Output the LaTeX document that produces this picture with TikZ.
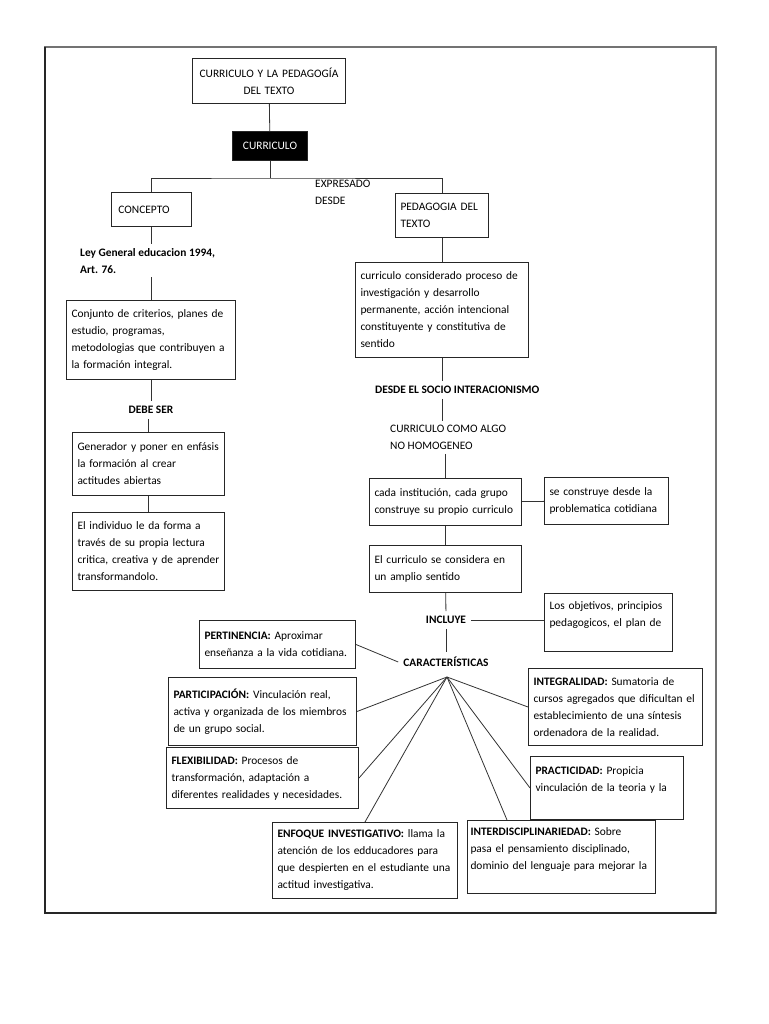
\documentclass[tikz,border=0pt]{standalone}
\usepackage{fontspec}
\setmainfont{Carlito}
\usetikzlibrary{positioning}
\newcommand{\txtsize}{\fontsize{11.4pt}{17pt}\selectfont}
\tikzset{
  box/.style={draw=black!85, line width=1pt, anchor=north west, align=left, inner xsep=5pt, inner ysep=3pt},
  lbl/.style={font=\txtsize\bfseries, inner sep=5pt},
  link/.style={draw=black!80, line width=0.8pt},
}

\begin{document}
\begin{tikzpicture}[x=1pt,y=-1pt,font=\txtsize]
	\useasboundingbox (0,0) rectangle (768,1024);
	\draw[line width=1.6pt, black!55] (45,47) rectangle (716,913);
	\draw[line width=1.6pt, black!85] (45,47) -- (45,913) -- (716,913);
	% cabecera
	\node[box, align=center, text width=143pt, minimum height=45pt] (titulo) at (192,58) {CURRICULO Y LA PEDAGOGÍA\\DEL TEXTO};
	\node[box, align=center, fill=black, text=white, text width=65pt, minimum height=29pt] (curr) at (232,131) {CURRICULO};
	\node[box, text width=70pt, minimum height=34pt] (concepto) at (111,192) {\,CONCEPTO};
	\node[box, text width=83pt, minimum height=44pt] (ped) at (395,193) {PEDAGOGIA DEL\\TEXTO};
	\node[anchor=north west, align=left, inner sep=3pt] (expr) at (312,177) {EXPRESADO\\DESDE};
	% columna izquierda
	\node[lbl, anchor=north west, align=left, inner sep=4pt] (ley) at (76,244) {Ley General educacion 1994,\\Art. 76.};
	\node[box, text width=159pt, minimum height=79pt] (conj) at (66,300) {Conjunto de criterios, planes de\\estudio, programas,\\metodologias que contribuyen a\\la formación integral.};
	\node[lbl] (debe) at (151,410) {DEBE SER};
	\node[box, text width=142pt, minimum height=63pt] (gen) at (72,432) {Generador y poner en enfásis\\la formación al crear\\actitudes abiertas};
	\node[box, text width=142pt, minimum height=78pt] (indiv) at (72,512) {El individuo le da forma a\\través de su propia lectura\\critica, creativa y de aprender\\transformandolo.};
	% columna derecha
	\node[box, text width=163pt, minimum height=95pt] (cons) at (355,262) {curriculo considerado proceso de\\investigación y desarrollo\\permanente, acción intencional\\constituyente y constitutiva de\\sentido};
	\node[lbl, anchor=west] (socio) at (370,390) {DESDE EL SOCIO INTERACIONISMO};
	\node[anchor=north west, align=left, inner sep=4pt] (homog) at (386,421) {CURRICULO COMO ALGO\\NO HOMOGENEO};
	\node[box, text width=142pt, minimum height=47pt] (cada) at (369,478) {cada institución, cada grupo\\construye su propio curriculo};
	\node[box, text width=114pt, minimum height=47pt] (desde) at (544,477) {se construye desde la\\problematica cotidiana};
	\node[box, text width=142pt, minimum height=47pt] (amplio) at (369,545) {El curriculo se considera en\\un amplio sentido};
	\node[lbl] (incl) at (446,620) {INCLUYE};
	\node[box, text width=118pt, minimum height=58pt] (objet) at (544,593) {Los objetivos, principios\\pedagogicos, el plan de\\~};
	\node[lbl] (carac) at (446,662) {CARACTERÍSTICAS};
	% caracteristicas
	\node[box, text width=146pt, minimum height=48pt] (pert) at (199,620) {\textbf{PERTINENCIA:} Aproximar\\enseñanza a la vida cotidiana.};
	\node[box, text width=178pt, minimum height=68pt] (partic) at (168,677) {\textbf{PARTICIPACIÓN:} Vinculación real,\\activa y organizada de los miembros\\de un grupo social.};
	\node[box, text width=164pt, minimum height=77pt] (integ) at (528,668) {\textbf{INTEGRALIDAD:} Sumatoria de\\cursos agregados que dificultan el\\establecimiento de una síntesis\\ordenadora de la realidad.};
	\node[box, text width=182pt, minimum height=61pt] (flex) at (166,747) {\textbf{FLEXIBILIDAD:} Procesos de\\transformación, adaptación a\\diferentes realidades y necesidades.};
	\node[box, text width=143pt, minimum height=63pt] (pract) at (530,756) {\textbf{PRACTICIDAD:} Propicia\\vinculación de la teoria y la\\~};
	\node[box, text width=175pt, minimum height=76pt] (enf) at (272,822) {\textbf{ENFOQUE INVESTIGATIVO:} llama la\\atención de los edducadores para\\que despierten en el estudiante una\\actitud investigativa.};
	\node[box, inner xsep=3pt, text width=182pt, minimum height=73pt] (inter) at (467,820) {\textbf{INTERDISCIPLINARIEDAD:} Sobre\\pasa el pensamiento disciplinado,\\dominio del lenguaje para mejorar la\\~};
	% conectores
	\coordinate (bar) at (270,178);
	\coordinate (hub) at (447,677);
	\draw[link] (titulo) -- (curr);
	\draw[link] (curr) -- (bar);
	\draw[link] (concepto.north) |- (bar) -| (ped.north);
	\draw[link] (concepto.south) -- (concepto.south |- ley.north);
	\draw[link] (conj.north) -- (conj.north |- ley.south);
	\draw[link] (conj.south) -- (conj.south |- debe.north);
	\draw[link] (gen.north |- debe.south) -- (gen.north);
	\draw[link] (gen) -- (indiv);
	\draw[link] (ped) -- (cons);
	\draw[link] (cons.south) -- (cons.south |- socio.north);
	\draw[link] (cons.south |- socio.south) -- (cons.south |- homog.north);
	\draw[link] (cada.north |- homog.south) -- (cada.north);
	\draw[link] (cada) -- (desde);
	\draw[link] (cada) -- (amplio);
	\draw[link] (amplio) -- (incl);
	\draw[link] (incl) -- (objet.west |- incl);
	\draw[link] (incl) -- (carac);
	\draw[link] (pert.east) -- (carac.west);
	\foreach \dest in {partic.east, flex.east, enf.north, integ.west, pract.west}
		\draw[link] (hub) -- (\dest);
	\draw[link] (hub) -- ([xshift=40pt]inter.north west);
\end{tikzpicture}
\end{document}
